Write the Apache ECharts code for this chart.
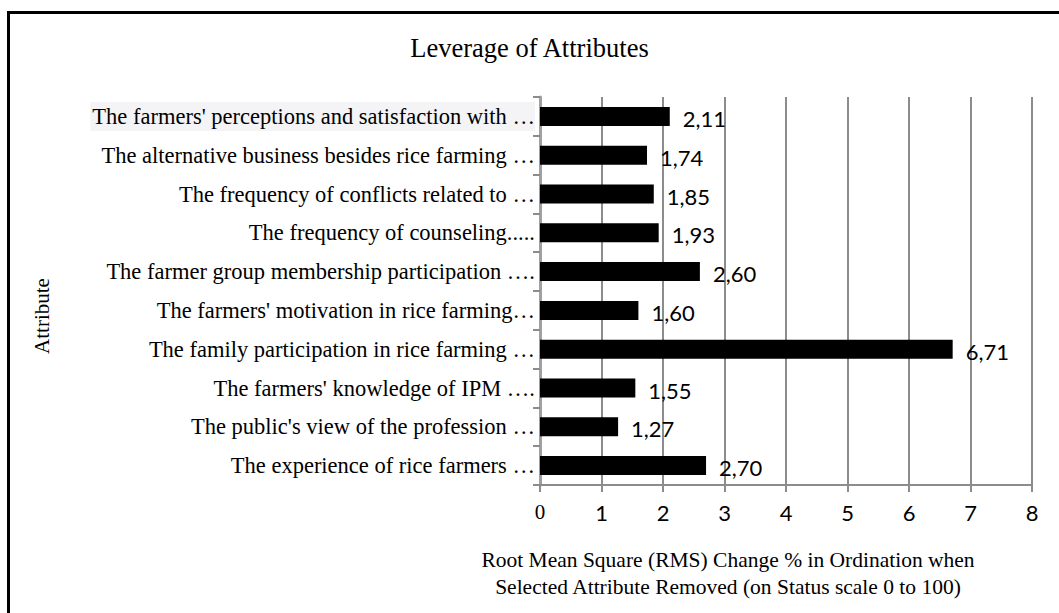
<!DOCTYPE html>
<html>
<head>
<meta charset="utf-8">
<script src="https://cdn.jsdelivr.net/npm/echarts@6/dist/echarts.min.js"></script>
<style>
  html, body { margin: 0; padding: 0; background: #fff; overflow: hidden; }
  #echart { position: absolute; left: 0; top: 0; width: 1059px; height: 613px; }
  #frame {
    position: absolute; left: 7px; top: 11px; width: 1100px; height: 700px;
    border-top: 3px solid #000; border-left: 3px solid #000;
    pointer-events: none;
  }
</style>
</head>
<body>
<div id="echart"></div>
<div id="frame"></div>
<script>
// attributes, bottom to top as drawn
const attributes = [
  "The experience of rice farmers …",
  "The public's view of the profession …",
  "The farmers' knowledge of IPM ….",
  "The family participation in rice farming …",
  "The farmers' motivation in rice farming…",
  "The farmer group membership participation ….",
  "The frequency of counseling.....",
  "The frequency of conflicts related to …",
  "The alternative business besides rice farming …",
  "The farmers' perceptions and satisfaction with …"
];
const rmsChange = [2.70, 1.27, 1.55, 6.71, 1.60, 2.60, 1.93, 1.85, 1.74, 2.11];
const xTicks = [0, 1, 2, 3, 4, 5, 6, 7, 8];

const serif = "'Liberation Serif', 'Times New Roman', serif";
const sans = "Lato, 'Open Sans', sans-serif";

const chart = echarts.init(document.getElementById("echart"), null, { renderer: "svg" });

chart.setOption({
  animation: false,
  title: {
    text: "Leverage of Attributes",
    left: "center",
    top: 34,
    padding: 0,
    textStyle: { fontFamily: serif, fontSize: 26.5, fontWeight: "normal", color: "#000" }
  },
  grid: { left: 540, right: 27, top: 97, bottom: 128 },
  xAxis: {
    type: "value",
    min: xTicks[0],
    max: xTicks[xTicks.length - 1],
    interval: 1,
    axisLine: { show: true, lineStyle: { color: "#8c8c8c", width: 2 } },
    axisTick: { show: true, length: 7, lineStyle: { color: "#8c8c8c", width: 2 } },
    splitLine: { show: true, lineStyle: { color: "#8c8c8c", width: 2 } },
    axisLabel: {
      margin: 16,
      color: "#000",
      fontFamily: sans,
      fontSize: 22,
      formatter: function (v) {
        if (v === 0) return "{s|0}";
        if (v === 3) return "{up|3}";
        return String(v);
      },
      rich: {
        s: { fontFamily: serif, fontSize: 21, color: "#000" },
        up: { fontFamily: sans, fontSize: 22, color: "#000", padding: [0, 0, 6, 0] }
      }
    }
  },
  yAxis: {
    type: "category",
    data: attributes,
    axisLine: { show: true, lineStyle: { color: "#a0a0a0", width: 3 } },
    axisTick: { show: true, length: 7, lineStyle: { color: "#8c8c8c", width: 2 } },
    splitLine: { show: false },
    axisLabel: {
      margin: 5,
      color: "#000",
      fontFamily: serif,
      fontSize: 22.5,
      formatter: function (v, i) {
        return i === attributes.length - 1 ? "{hl|" + v + "}" : v;
      },
      rich: {
        hl: { fontFamily: serif, fontSize: 22.5, color: "#000", backgroundColor: "#f4f4f6", padding: [3, 0, 3, 2] }
      }
    }
  },
  series: [
    {
      type: "bar",
      data: rmsChange,
      barWidth: 19,
      itemStyle: { color: "#000" },
      label: {
        show: true,
        position: "right",
        distance: 13,
        offset: [0, 2],
        color: "#000",
        fontFamily: sans,
        fontSize: 22,
        formatter: function (p) { return p.value.toFixed(2).replace(".", ","); }
      }
    }
  ],
  graphic: [
    {
      type: "text",
      x: 42, y: 316,
      rotation: Math.PI / 2,
      style: {
        text: "Attribute",
        fontFamily: serif, fontSize: 21, fill: "#000",
        align: "center", verticalAlign: "middle"
      }
    },
    {
      type: "text",
      x: 728, y: 573,
      style: {
        text: "Root Mean Square (RMS) Change % in Ordination when\nSelected Attribute Removed (on Status scale 0 to 100)",
        fontFamily: serif, fontSize: 21.5, fill: "#000", lineHeight: 27,
        align: "center", verticalAlign: "middle"
      }
    }
  ]
});
</script>
</body>
</html>
